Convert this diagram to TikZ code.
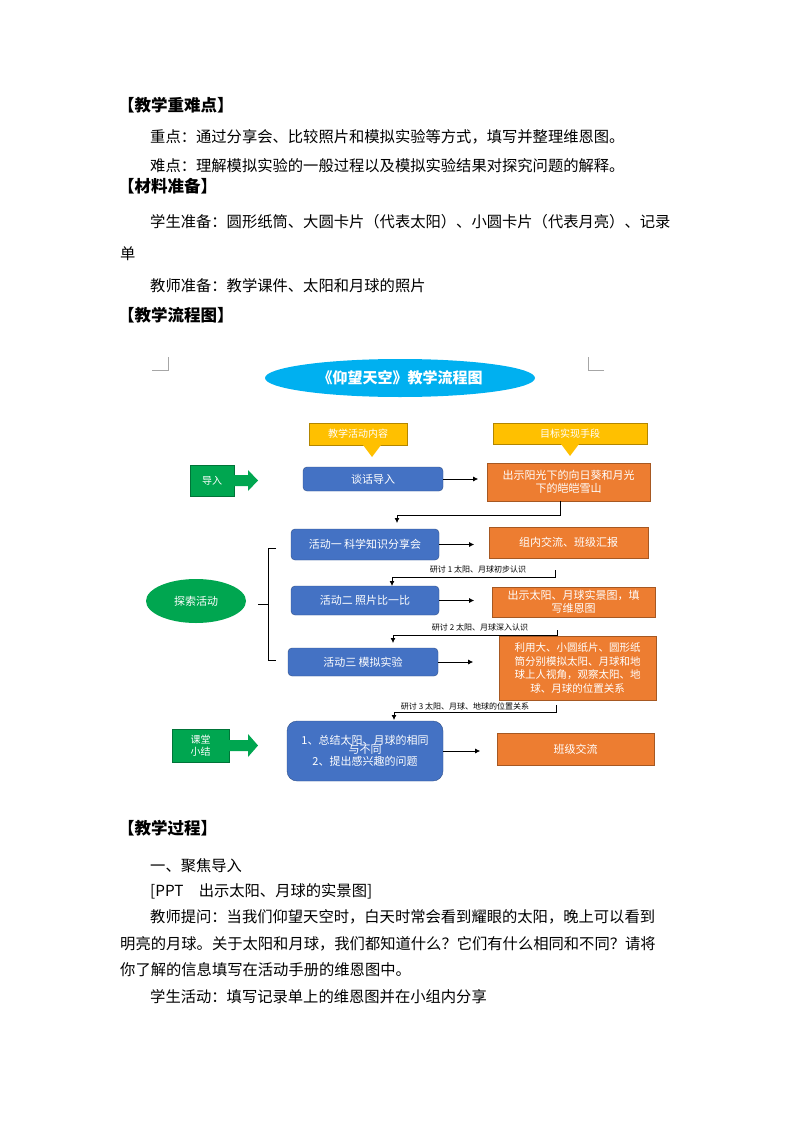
\documentclass[tikz,border=0pt]{standalone}
\usepackage{fontspec}
\setmainfont{Noto Sans CJK SC}
\usetikzlibrary{shapes.geometric,arrows.meta}
\definecolor{cblue}{HTML}{4472C4}
\definecolor{corange}{HTML}{ED7D31}
\definecolor{cyel}{HTML}{FFC000}
\definecolor{cgreen}{HTML}{00A650}
\definecolor{ccyan}{HTML}{00B0F0}
\tikzset{x=1pt,y=-1pt,
 body/.style={anchor=west,inner sep=0,font=\fontsize{15.3}{15}\selectfont},
 head/.style={anchor=west,inner sep=0,font=\fontsize{16.5}{16}\selectfont\bfseries},
 bbox/.style={fill=cblue,draw=cblue!70!black,rounded corners=4pt,text=white,font=\fontsize{11}{12}\selectfont,align=center,inner sep=1pt},
 obox/.style={fill=corange,draw=corange!70!black,text=white,font=\fontsize{11}{13}\selectfont,align=center,inner sep=1pt},
 ybox/.style={fill=cyel,draw=cyel!70!black,text=white,font=\fontsize{10}{12}\selectfont,inner sep=1pt},
 gbox/.style={fill=cgreen,draw=cgreen!70!black,text=white,font=\fontsize{10}{12}\selectfont,align=center,inner sep=1pt},
 arr/.style={-{Latex[length=5pt,width=5pt]},thick},
 lab/.style={font=\fontsize{8}{9}\selectfont,inner sep=0}}
\begin{document}
\begin{tikzpicture}
\useasboundingbox[fill=white] (0,0) rectangle (794,1123);
% text
\node[head] (h1) at (118,105) {【教学重难点】};
\node[body] (t1) at (150,137) {重点：通过分享会、比较照片和模拟实验等方式，填写并整理维恩图。};
\node[body] (t2) at (150,166) {难点：理解模拟实验的一般过程以及模拟实验结果对探究问题的解释。};
\node[head] (h2) at (118,186) {【材料准备】};
\node[body] (t3) at (150,222) {学生准备：圆形纸筒、大圆卡片（代表太阳）、小圆卡片（代表月亮）、记录};
\node[body] (t4) at (120,254) {单};
\node[body] (t5) at (150,286) {教师准备：教学课件、太阳和月球的照片};
\node[head] (h3) at (118,315) {【教学流程图】};
% corner marks
\draw[gray!70,thin] (152,370) -- (168,370) -- (168,357);
\draw[gray!70,thin] (604,370) -- (588,370) -- (588,357);
% title
\node[ellipse,fill=ccyan,minimum width=270,minimum height=38,inner sep=0,text=white,font=\fontsize{15}{15}\selectfont\bfseries] (title) at (400,378) {《仰望天空》教学流程图};
% yellow headers
\node[ybox,minimum width=98,minimum height=22] (y1) at (358,434) {教学活动内容};
\node[ybox,minimum width=154,minimum height=21] (y2) at (570,433.5) {目标实现手段};
\fill[cyel] (363,445) -- (381,445) -- (372,457) -- cycle;
\fill[cyel] (561,444) -- (579,444) -- (570,456) -- cycle;
% left green
\node[gbox,minimum width=44,minimum height=31] (g1) at (212,480.5) {导入};
\fill[cgreen] (234,475) -- (248,475) -- (248,470) -- (258,480.5) -- (248,491) -- (248,486) -- (234,486) -- cycle;
\node[ellipse,fill=cgreen,minimum width=100,minimum height=44,inner sep=0,text=white,font=\fontsize{11}{12}\selectfont] (g2) at (196,601) {探索活动};
\node[gbox,minimum width=57,minimum height=33] (g3) at (200.5,745.5) {课堂\\小结};
\fill[cgreen] (229,740) -- (248,740) -- (248,734) -- (258,745.5) -- (248,757) -- (248,751) -- (229,751) -- cycle;
% bracket
\draw (276,548) -- (268,548) -- (268,660) -- (276,660);
\draw (268,604) -- (258,604);
% blue boxes
\node[bbox,minimum width=140,minimum height=24] (b1) at (373,479) {谈话导入};
\node[bbox,minimum width=148,minimum height=31] (b2) at (365,544.5) {活动一\ 科学知识分享会};
\node[bbox,minimum width=148,minimum height=29] (b3) at (365,600.5) {活动二\ 照片比一比};
\node[bbox,minimum width=150,minimum height=28] (b4) at (363,662) {活动三\ 模拟实验};
\node[bbox,rounded corners=10pt,minimum width=156,minimum height=60] (b5) at (365,751) {1、总结太阳、月球的相同\\[-3pt]与不同\\2、提出感兴趣的问题};
% orange boxes
\node[obox,minimum width=163,minimum height=38] (o1) at (568.5,482) {出示阳光下的向日葵和月光\\下的皑皑雪山};
\node[obox,minimum width=159,minimum height=31] (o2) at (568.5,542.5) {组内交流、班级汇报};
\node[obox,minimum width=163,minimum height=30] (o3) at (573.5,602) {出示太阳、月球实景图，填\\写维恩图};
\node[obox,minimum width=157,minimum height=64,font=\fontsize{10.5}{13.5}\selectfont] (o4) at (577.5,668) {利用大、小圆纸片、圆形纸\\筒分别模拟太阳、月球和地\\球上人视角，观察太阳、地\\球、月球的位置关系};
\node[obox,minimum width=157,minimum height=32] (o5) at (575.5,749) {班级交流};
% horizontal arrows
\draw[arr] (b1.east) -- ++(35,0);
\draw[arr] (b2.east) -- ++(35,0);
\draw[arr] (b3.east) -- ++(35,0);
\draw[arr] (b4.east) -- ++(35,0);
\draw[arr] (b5.east) -- ++(37,0);
% connectors
\draw[arr] (560,501) -- (560,515) -- (397,515) -- (397,523);
\draw[arr] (555,570) -- (555,577) -- (392,577) -- (392,586);
\node[lab] (l1) at (478,569) {研讨 1\ 太阳、月球初步认识};
\draw[arr] (557,630) -- (557,635) -- (393,635) -- (393,643);
\node[lab] (l2) at (480,627) {研讨 2\ 太阳、月球深入认识};
\draw[arr] (556,705) -- (556,712) -- (394,712) -- (394,720);
\node[lab] (l3) at (465,706) {研讨 3\ 太阳、月球、地球的位置关系};
% lower text
\node[head] (h4) at (118,828) {【教学过程】};
\node[body] (t6) at (150,866) {一、聚焦导入};
\node[body] (t7) at (150,891) {[PPT\quad 出示太阳、月球的实景图]};
\node[body] (t8) at (150,917) {教师提问：当我们仰望天空时，白天时常会看到耀眼的太阳，晚上可以看到};
\node[body] (t9) at (120,944) {明亮的月球。关于太阳和月球，我们都知道什么？它们有什么相同和不同？请将};
\node[body] (t10) at (120,970) {你了解的信息填写在活动手册的维恩图中。};
\node[body] (t11) at (150,997) {学生活动：填写记录单上的维恩图并在小组内分享};
\end{tikzpicture}
\end{document}
